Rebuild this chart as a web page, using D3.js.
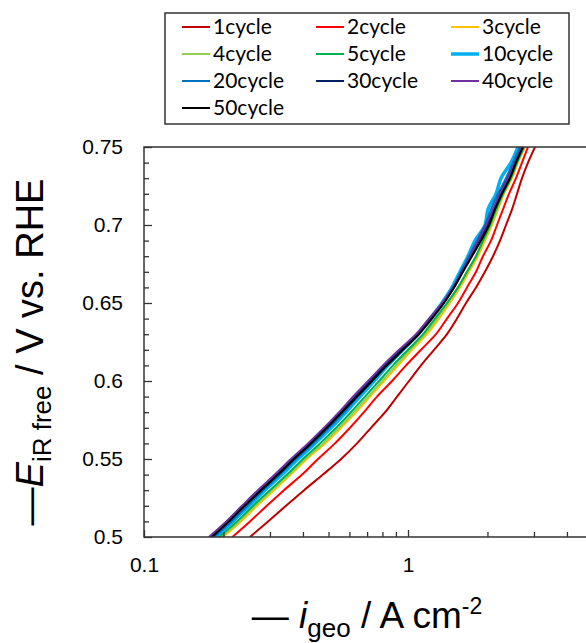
<!DOCTYPE html>
<html>
<head>
<meta charset="utf-8">
<script src="https://cdn.jsdelivr.net/npm/d3@7"></script>
<style>
  body { margin: 0; background: #fff; }
  svg text { fill: #000; }
</style>
</head>
<body>
<div id="chart"></div>
<script>
// potential (V vs. RHE) at which each current was read
const potentials = [0.50, 0.51, 0.52, 0.53, 0.54, 0.55, 0.56, 0.57, 0.58, 0.59, 0.60, 0.61, 0.62,
                    0.63, 0.64, 0.65, 0.66, 0.67, 0.68, 0.69, 0.70, 0.71, 0.72, 0.73, 0.74, 0.75];

// current density (A cm-2) per cycle
const cycle1  = [0.252, 0.295, 0.345, 0.404, 0.476, 0.558, 0.641, 0.724, 0.819, 0.909, 1.009, 1.120, 1.255, 1.405, 1.533, 1.659, 1.810, 1.957, 2.099, 2.231, 2.351, 2.477, 2.588, 2.703, 2.848, 3.028];
const cycle2  = [0.216, 0.252, 0.292, 0.339, 0.397, 0.456, 0.529, 0.603, 0.681, 0.763, 0.870, 0.983, 1.120, 1.276, 1.405, 1.547, 1.673, 1.810, 1.923, 2.063, 2.174, 2.290, 2.413, 2.565, 2.703, 2.848];
const cycle3  = [0.199, 0.233, 0.268, 0.311, 0.360, 0.414, 0.485, 0.557, 0.635, 0.718, 0.811, 0.917, 1.036, 1.180, 1.311, 1.442, 1.574, 1.703, 1.841, 1.958, 2.081, 2.193, 2.310, 2.477, 2.610, 2.775];
const cycle4  = [0.196, 0.229, 0.263, 0.305, 0.354, 0.407, 0.477, 0.548, 0.624, 0.705, 0.797, 0.901, 1.018, 1.160, 1.288, 1.417, 1.547, 1.673, 1.809, 1.924, 2.063, 2.174, 2.290, 2.455, 2.588, 2.751];
const cycle5  = [0.192, 0.225, 0.259, 0.300, 0.348, 0.400, 0.464, 0.534, 0.608, 0.687, 0.777, 0.878, 1.000, 1.140, 1.266, 1.405, 1.547, 1.673, 1.809, 1.924, 2.045, 2.155, 2.290, 2.455, 2.588, 2.751];
const cycle10 = [0.187, 0.217, 0.250, 0.287, 0.333, 0.383, 0.444, 0.511, 0.582, 0.658, 0.744, 0.840, 0.957, 1.091, 1.212, 1.345, 1.468, 1.574, 1.687, 1.795, 1.958, 2.009, 2.155, 2.250, 2.456, 2.610];
const cycle20 = [0.184, 0.214, 0.246, 0.282, 0.327, 0.376, 0.437, 0.502, 0.572, 0.646, 0.731, 0.826, 0.949, 1.091, 1.212, 1.357, 1.481, 1.588, 1.702, 1.826, 1.958, 2.063, 2.192, 2.351, 2.499, 2.656];
const cycle30 = [0.178, 0.206, 0.237, 0.275, 0.319, 0.367, 0.426, 0.489, 0.557, 0.630, 0.718, 0.819, 0.941, 1.091, 1.212, 1.357, 1.494, 1.602, 1.732, 1.858, 1.992, 2.118, 2.231, 2.392, 2.543, 2.703];
const cycle40 = [0.176, 0.205, 0.235, 0.270, 0.313, 0.360, 0.418, 0.481, 0.548, 0.619, 0.706, 0.804, 0.925, 1.072, 1.201, 1.345, 1.481, 1.602, 1.717, 1.842, 1.975, 2.099, 2.231, 2.392, 2.543, 2.703];
const cycle50 = [0.181, 0.210, 0.241, 0.278, 0.322, 0.370, 0.429, 0.493, 0.562, 0.641, 0.731, 0.833, 0.957, 1.100, 1.233, 1.369, 1.494, 1.616, 1.747, 1.891, 2.027, 2.136, 2.270, 2.434, 2.565, 2.727];

const seriesNames  = ['1cycle', '2cycle', '3cycle', '4cycle', '5cycle', '10cycle', '20cycle', '30cycle', '40cycle', '50cycle'];
const seriesValues = [cycle1, cycle2, cycle3, cycle4, cycle5, cycle10, cycle20, cycle30, cycle40, cycle50];
const seriesColors = ['#C00000', '#FF0000', '#FFC000', '#92D050', '#00B050', '#00B0F0', '#0070C0', '#002060', '#7030A0', '#000000'];

const yMajor = [0.5, 0.55, 0.6, 0.65, 0.7, 0.75];
const yMinor = [0.51, 0.52, 0.53, 0.54, 0.56, 0.57, 0.58, 0.59, 0.61, 0.62, 0.63, 0.64,
                0.66, 0.67, 0.68, 0.69, 0.71, 0.72, 0.73, 0.74];
const xLabelled = [0.1, 1];
const xMinor = [0.2, 0.3, 0.4, 0.5, 0.6, 0.7, 0.8, 0.9, 2, 3, 4, 5, 6, 7, 8, 9];

const width = 586, height = 643;
const plot = {left: 144, top: 147, bottom: 537, right: 672};

const svg = d3.select('#chart').append('svg')
    .attr('width', width)
    .attr('height', height);

const x = d3.scaleLog().domain([0.1, 10]).range([plot.left, plot.right]);
const y = d3.scaleLinear().domain([0.5, 0.75]).range([plot.bottom, plot.top]);

// clip for the curves
svg.append('clipPath').attr('id', 'clip')
  .append('rect')
    .attr('x', plot.left).attr('y', plot.top)
    .attr('width', width - plot.left).attr('height', plot.bottom - plot.top);

// curves
const line = d3.line()
    .x(d => x(d[1]))
    .y(d => y(d[0]))
    .curve(d3.curveMonotoneY);

svg.append('g').attr('clip-path', 'url(#clip)')
  .selectAll('path.curve')
  .data(seriesValues.map((vals, k) => ({name: seriesNames[k], color: seriesColors[k],
        pts: vals.map((v, j) => [potentials[j], v])})))
  .join('path')
    .classed('curve', true)
    .attr('fill', 'none')
    .attr('stroke', d => d.color)
    .attr('stroke-width', d => d.name === '10cycle' ? 3.5 : 2)
    .attr('stroke-linejoin', 'round')
    .attr('d', d => line(d.pts));

// axes
const axisColor = '#333';
const tickFont = '"Liberation Sans", Arial, sans-serif';

const yMinorAxis = d3.axisLeft(y).tickValues(yMinor).tickSize(-5).tickFormat('');
const yMajorAxis = d3.axisLeft(y).tickValues(yMajor).tickSize(-8).tickPadding(21)
    .tickFormat(d => String(d));
const xMinorAxis = d3.axisBottom(x).tickValues(xMinor).tickSize(-5).tickFormat('');
const xMajorAxis = d3.axisBottom(x).tickValues(xLabelled).tickSize(-7).tickPadding(20)
    .tickFormat(d => String(d));

[yMinorAxis, yMajorAxis].forEach(ax => {
  svg.append('g').attr('transform', `translate(${plot.left},0)`).call(ax);
});
[xMinorAxis, xMajorAxis].forEach(ax => {
  svg.append('g').attr('transform', `translate(0,${plot.bottom})`).call(ax);
});
svg.selectAll('.domain').remove();
svg.selectAll('.tick line').attr('stroke', axisColor).attr('stroke-width', 1.3);
svg.selectAll('.tick text')
    .attr('font-family', tickFont)
    .attr('font-size', 21)
    .attr('fill', '#000');

// frame: left, bottom and top edges
svg.append('path')
    .attr('fill', 'none')
    .attr('stroke', axisColor)
    .attr('stroke-width', 1.5)
    .attr('d', `M${width},${plot.top}H${plot.left}V${plot.bottom}H${width}`);

// axis titles
const yTitle = svg.append('text')
    .attr('transform', `translate(43,352) rotate(-90)`)
    .attr('text-anchor', 'middle')
    .attr('font-family', tickFont)
    .attr('font-size', 38);
yTitle.append('tspan').text('—');
yTitle.append('tspan').attr('font-style', 'italic').text('E');
yTitle.append('tspan').attr('font-size', 26).attr('dy', 8).text('iR free');
yTitle.append('tspan').attr('dy', -8).text(' / V vs. RHE');

const xTitle = svg.append('text')
    .attr('x', 367).attr('y', 628)
    .attr('text-anchor', 'middle')
    .attr('font-family', tickFont)
    .attr('font-size', 37);
xTitle.append('tspan').text('— ');
xTitle.append('tspan').attr('font-style', 'italic').text('i');
xTitle.append('tspan').attr('font-size', 26).attr('dy', 9).text('geo');
xTitle.append('tspan').attr('dy', -9).text(' / A cm');
xTitle.append('tspan').attr('font-size', 23).attr('dy', -14).text('-2');

// legend
const legend = svg.append('g');
legend.append('rect')
    .attr('x', 165).attr('y', 13)
    .attr('width', 404).attr('height', 111)
    .attr('fill', '#fff')
    .attr('stroke', axisColor)
    .attr('stroke-width', 1.5);

const colX = [182, 316, 451];
const rowY = [27, 54, 81, 108];
const item = legend.selectAll('g.item')
  .data(seriesNames.map((n, k) => ({name: n, color: seriesColors[k], col: k % 3, row: Math.floor(k / 3)})))
  .join('g')
    .classed('item', true)
    .attr('transform', d => `translate(${colX[d.col]},${rowY[d.row]})`);
item.append('line')
    .attr('x1', 0).attr('x2', 28)
    .attr('stroke', d => d.color)
    .attr('stroke-width', d => d.name === '10cycle' ? 3.5 : 2);
item.append('text')
    .attr('x', 31).attr('y', 7)
    .attr('font-family', 'Lato, "Open Sans", sans-serif')
    .attr('font-size', 21)
    .text(d => d.name);
</script>
</body>
</html>
